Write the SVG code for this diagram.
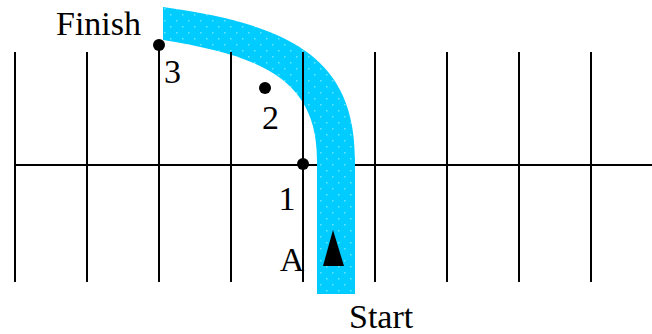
<svg xmlns="http://www.w3.org/2000/svg" width="652" height="334" viewBox="0 0 652 334">
<style>
.grid{stroke:#000;stroke-width:2;fill:none}
.lbl{font-family:"Liberation Serif","Times New Roman",serif;font-size:34px;fill:#000}
.dot{fill:#000}
</style>
<defs>
<pattern id="dots" patternUnits="userSpaceOnUse" width="12" height="12">
<rect width="12" height="12" fill="#00CCFF"/>
<rect x="2" y="2" width="1.5" height="1.5" fill="#66E6FF"/>
<rect x="8" y="8" width="1.5" height="1.5" fill="#66E6FF"/>
</pattern>
</defs>
<rect width="652" height="334" fill="#fff"/>
<g id="horizontal">
<line class="grid" x1="15" y1="165" x2="652" y2="165"/>
</g>
<g id="track">
<path d="M355,294 L355,160 C355,60 293,24.5 163,7 L163,40 C263,56 317,80 317,160 L317,294 Z" fill="url(#dots)"/>
<polygon points="333,230 323,266 344,266" fill="#000"/>
</g>
<g id="verticals" class="grid">
<line x1="15" y1="52" x2="15" y2="282"/>
<line x1="87" y1="52" x2="87" y2="282"/>
<line x1="159" y1="45" x2="159" y2="282"/>
<line x1="231" y1="52" x2="231" y2="282"/>
<line x1="303" y1="52" x2="303" y2="282"/>
<line x1="375" y1="52" x2="375" y2="282"/>
<line x1="447" y1="52" x2="447" y2="282"/>
<line x1="519" y1="52" x2="519" y2="282"/>
<line x1="591" y1="52" x2="591" y2="282"/>
</g>
<g id="point1"><circle class="dot" cx="303" cy="164" r="6"/><text class="lbl" x="287" y="210" text-anchor="middle">1</text></g>
<g id="point2"><circle class="dot" cx="265" cy="88" r="6"/><text class="lbl" x="270.5" y="129" text-anchor="middle">2</text></g>
<g id="point3"><circle class="dot" cx="159" cy="45" r="6"/><text class="lbl" x="172.5" y="83" text-anchor="middle">3</text></g>
<g id="labelA"><text class="lbl" x="292" y="271" text-anchor="middle">A</text></g>
<g id="finish"><text class="lbl" x="56" y="35">Finish</text></g>
<g id="start"><text class="lbl" x="349" y="328">Start</text></g>
</svg>
